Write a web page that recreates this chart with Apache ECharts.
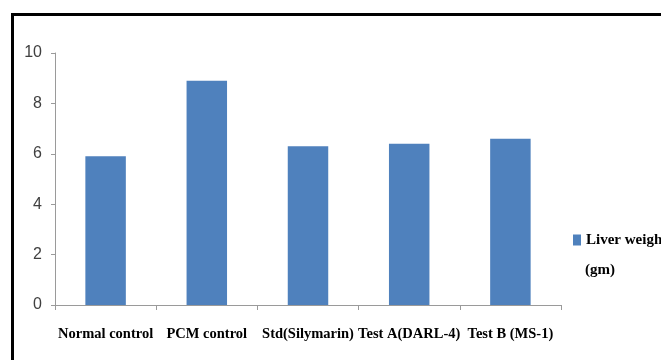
<!DOCTYPE html>
<html>
<head>
<meta charset="utf-8">
<script src="https://cdn.jsdelivr.net/npm/echarts@6/dist/echarts.min.js"></script>
<style>
html,body{margin:0;padding:0;background:#fff;}
#chart{width:661px;height:360px;}
</style>
</head>
<body>
<div id="chart"></div>
<script>
const categories = ['Normal control', 'PCM control', 'Std(Silymarin)', 'Test A(DARL-4)', 'Test B (MS-1)'];
const liverWeight = [5.9, 8.9, 6.3, 6.4, 6.6];
const seriesName = 'Liver weight (gm)';
const legendLine1 = 'Liver weight';
const legendLine2 = '(gm)';
const yTicks = [0, 2, 4, 6, 8, 10];

const serifBold = {
  fontFamily: 'Liberation Serif, Times New Roman, serif',
  fontWeight: 'bold', fontSize: 15, fill: '#000'
};

const chart = echarts.init(document.getElementById('chart'), null, {renderer: 'canvas'});
chart.setOption({
  animation: false,
  backgroundColor: '#ffffff',
  graphic: [{
    type: 'rect',
    left: 10, top: 12,
    shape: {width: 700, height: 400},
    style: {fill: 'none', stroke: '#000', lineWidth: 3},
    silent: true
  }, {
    type: 'text',
    left: 585, top: 263,
    style: Object.assign({text: legendLine2}, serifBold),
    silent: true
  }],
  grid: {left: 55, right: 100, top: 53, bottom: 55, containLabel: false},
  legend: {
    left: 568, top: 226, width: 300,
    itemWidth: 8, itemHeight: 11, itemGap: 0,
    icon: 'rect',
    formatter: function () { return legendLine1; },
    textStyle: {
      fontFamily: 'Liberation Serif, Times New Roman, serif',
      fontWeight: 'bold', fontSize: 15, color: '#000',
      lineHeight: 18, width: 200, overflow: 'none'
    },
    data: [seriesName]
  },
  xAxis: {
    type: 'category',
    data: categories,
    boundaryGap: true,
    axisLine: {lineStyle: {color: '#9a9a9a', width: 1}},
    axisTick: {show: true, length: 5, alignWithLabel: false, lineStyle: {color: '#9a9a9a'}},
    axisLabel: {
      interval: 0, margin: 22,
      fontFamily: 'Liberation Serif, Times New Roman, serif',
      fontWeight: 'bold', fontSize: 14.5, color: '#000'
    }
  },
  yAxis: {
    type: 'value',
    min: yTicks[0], max: yTicks[yTicks.length - 1], interval: 2,
    splitLine: {show: false},
    axisLine: {show: true, lineStyle: {color: '#9a9a9a', width: 1}},
    axisTick: {show: true, length: 4, lineStyle: {color: '#9a9a9a'}},
    axisLabel: {
      margin: 13,
      fontFamily: 'Liberation Sans Narrow, Liberation Sans, sans-serif',
      fontSize: 16, color: '#404040'
    }
  },
  series: [{
    name: seriesName,
    type: 'bar',
    data: liverWeight,
    barWidth: '40%',
    itemStyle: {color: '#4f81bd'}
  }]
});
</script>
</body>
</html>
